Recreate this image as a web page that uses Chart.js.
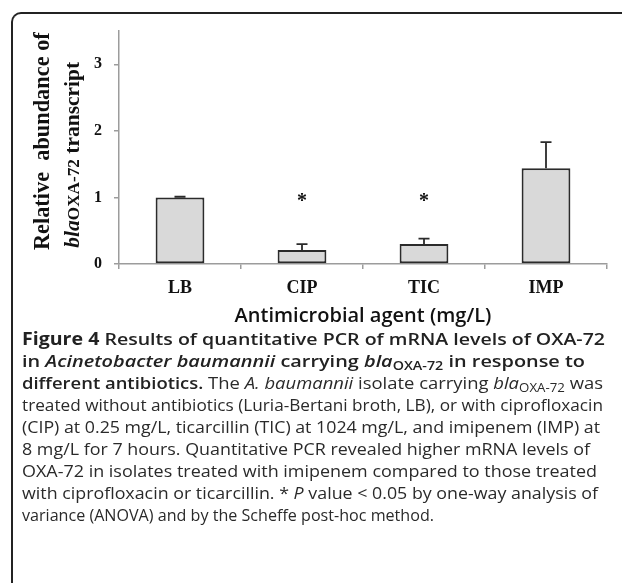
<!DOCTYPE html>
<html><head><meta charset="utf-8">
<script src="https://cdn.jsdelivr.net/npm/chart.js@4.4.1/dist/chart.umd.min.js"></script>
<style>
html,body{margin:0;padding:0;background:#fff;width:622px;height:583px;overflow:hidden;}
#frame{position:absolute;left:11px;top:12px;width:700px;height:700px;border-top:2px solid #232323;border-left:2px solid #232323;border-top-left-radius:10px;box-sizing:border-box;}
#wrap{position:absolute;left:0;top:0;width:622px;height:330px;}
.yt{position:absolute;white-space:nowrap;font-family:"Liberation Serif",serif;font-weight:bold;color:#111;transform:rotate(-90deg);transform-origin:50% 50%;line-height:1;}
.yt .s{font-size:0.8em;font-style:normal;}
#cap{position:absolute;left:22px;top:328px;font-family:"Open Sans",sans-serif;font-size:17px;color:#2a2a2a;}
#cap div{height:22px;line-height:22px;white-space:nowrap;}
#cap span.l{display:inline-block;transform-origin:0 50%;}
.sb{font-weight:600;color:#222;}
.fb{font-weight:700;color:#222;}
.sub{font-size:0.72em;position:relative;top:0.28em;}
</style>
</head><body>
<div id="frame"></div>
<div id="wrap"><canvas id="c" width="622" height="330"></canvas></div>
<div class="yt" id="yt1">Relative&nbsp; abundance of</div>
<div class="yt" id="yt2"><i>bla</i><span class="s">OXA-72</span> transcript</div>
<div id="cap">
<div><span class="l"><span class="fb">Figure 4</span> <span class="sb">Results of quantitative PCR of mRNA levels of OXA-72</span></span></div>
<div><span class="l sb">in <i>Acinetobacter baumannii</i> carrying <i>bla</i><span class="sub">OXA-72</span> in response to</span></div>
<div><span class="l"><span class="sb">different antibiotics.</span> The <i>A. baumannii</i> isolate carrying <i>bla</i><span class="sub">OXA-72</span> was</span></div>
<div><span class="l">treated without antibiotics (Luria-Bertani broth, LB), or with ciprofloxacin</span></div>
<div><span class="l">(CIP) at 0.25 mg/L, ticarcillin (TIC) at 1024 mg/L, and imipenem (IMP) at</span></div>
<div><span class="l">8 mg/L for 7 hours. Quantitative PCR revealed higher mRNA levels of</span></div>
<div><span class="l">OXA-72 in isolates treated with imipenem compared to those treated</span></div>
<div><span class="l">with ciprofloxacin or ticarcillin. * <i>P</i> value &lt; 0.05 by one-way analysis of</span></div>
<div><span class="l">variance (ANOVA) and by the Scheffe post-hoc method.</span></div>
</div>
<script>
const categories = ['LB', 'CIP', 'TIC', 'IMP'];
const meanValues = [1.0, 0.21, 0.30, 1.44];
const errorValues = [0.01, 0.09, 0.08, 0.39];
const sigMarks = ['', '*', '*', ''];
const yTickValues = [0, 1, 2, 3];
const yMax = 3.5;
const sigLevel = 1.0;

// caption line right edges (layout)
const capRight = [605, 585, 603, 603, 600, 590, 597, 598, 434];
document.querySelectorAll('#cap span.l').forEach((el, i) => {
  const w = el.getBoundingClientRect().width;
  el.style.transform = 'scaleX(' + ((capRight[i] - 22) / w) + ')';
});

function placeY(id, cx, cy, len, baseSize) {
  const el = document.getElementById(id);
  el.style.fontSize = baseSize + 'px';
  const w0 = el.offsetWidth;
  const fs = baseSize * len / w0;
  el.style.fontSize = fs + 'px';
  const w = el.offsetWidth, h = el.offsetHeight;
  el.style.left = (cx - w / 2) + 'px';
  el.style.top = (cy - h / 2) + 'px';
}
placeY('yt1', 42, 141, 218, 20);
placeY('yt2', 73, 155, 186, 20);

const errorBarPlugin = {
  id: 'errorBars',
  afterDatasetsDraw(chart) {
    const meta = chart.getDatasetMeta(0);
    const y = chart.scales.y;
    const ctx = chart.ctx;
    ctx.save();
    ctx.strokeStyle = '#2b2b2b';
    ctx.lineWidth = 1.8;
    meta.data.forEach((bar, i) => {
      const top = y.getPixelForValue(meanValues[i] + errorValues[i]);
      const base = y.getPixelForValue(meanValues[i]);
      ctx.beginPath();
      ctx.moveTo(bar.x, base);
      ctx.lineTo(bar.x, top);
      ctx.moveTo(bar.x - 5.5, top);
      ctx.lineTo(bar.x + 5.5, top);
      ctx.stroke();
    });
    ctx.fillStyle = '#111';
    ctx.font = 'bold 20px "Liberation Serif"';
    ctx.textAlign = 'center';
    ctx.textBaseline = 'middle';
    meta.data.forEach((bar, i) => {
      if (sigMarks[i]) ctx.fillText(sigMarks[i], bar.x, y.getPixelForValue(sigLevel) + 4);
    });
    ctx.restore();
  }
};

new Chart(document.getElementById('c'), {
  type: 'bar',
  data: {
    labels: categories,
    datasets: [{
      data: meanValues,
      backgroundColor: '#d9d9d9',
      borderColor: '#2b2b2b',
      borderWidth: 2,
      borderSkipped: false,
      barPercentage: 0.4,
      categoryPercentage: 1.0
    }]
  },
  options: {
    responsive: false,
    animation: false,
    devicePixelRatio: 1,
    layout: { padding: { left: 0, right: 15, top: 31, bottom: 0 } },
    plugins: { legend: { display: false }, tooltip: { enabled: false } },
    scales: {
      x: {
        grid: { drawOnChartArea: false, drawTicks: true, tickLength: 5, color: '#9c9c9c', lineWidth: 1.5, offset: true },
        border: { color: '#9c9c9c', width: 1.5 },
        ticks: { color: '#111', padding: 9, font: { family: '"Liberation Serif"', weight: 'bold', size: 18 } },
        title: { display: true, text: 'Antimicrobial agent (mg/L)', color: '#111', padding: { top: 0, bottom: 2 },
                 font: { family: '"Open Sans"', weight: '600', size: 20 } },
        afterFit(scale) { scale.height = 66; }
      },
      y: {
        min: 0, max: yMax,
        grid: { drawOnChartArea: false, drawTicks: true, tickLength: 5, color: '#9c9c9c', lineWidth: 1.5 },
        border: { color: '#9c9c9c', width: 1.5 },
        ticks: { stepSize: 1, color: '#111', padding: 12, font: { family: '"Liberation Serif"', weight: 'bold', size: 16 } },
        afterBuildTicks(scale) { scale.ticks = yTickValues.map(v => ({ value: v })); },
        afterFit(scale) { scale.width = 119; }
      }
    }
  },
  plugins: [errorBarPlugin]
});
</script>
</body></html>
